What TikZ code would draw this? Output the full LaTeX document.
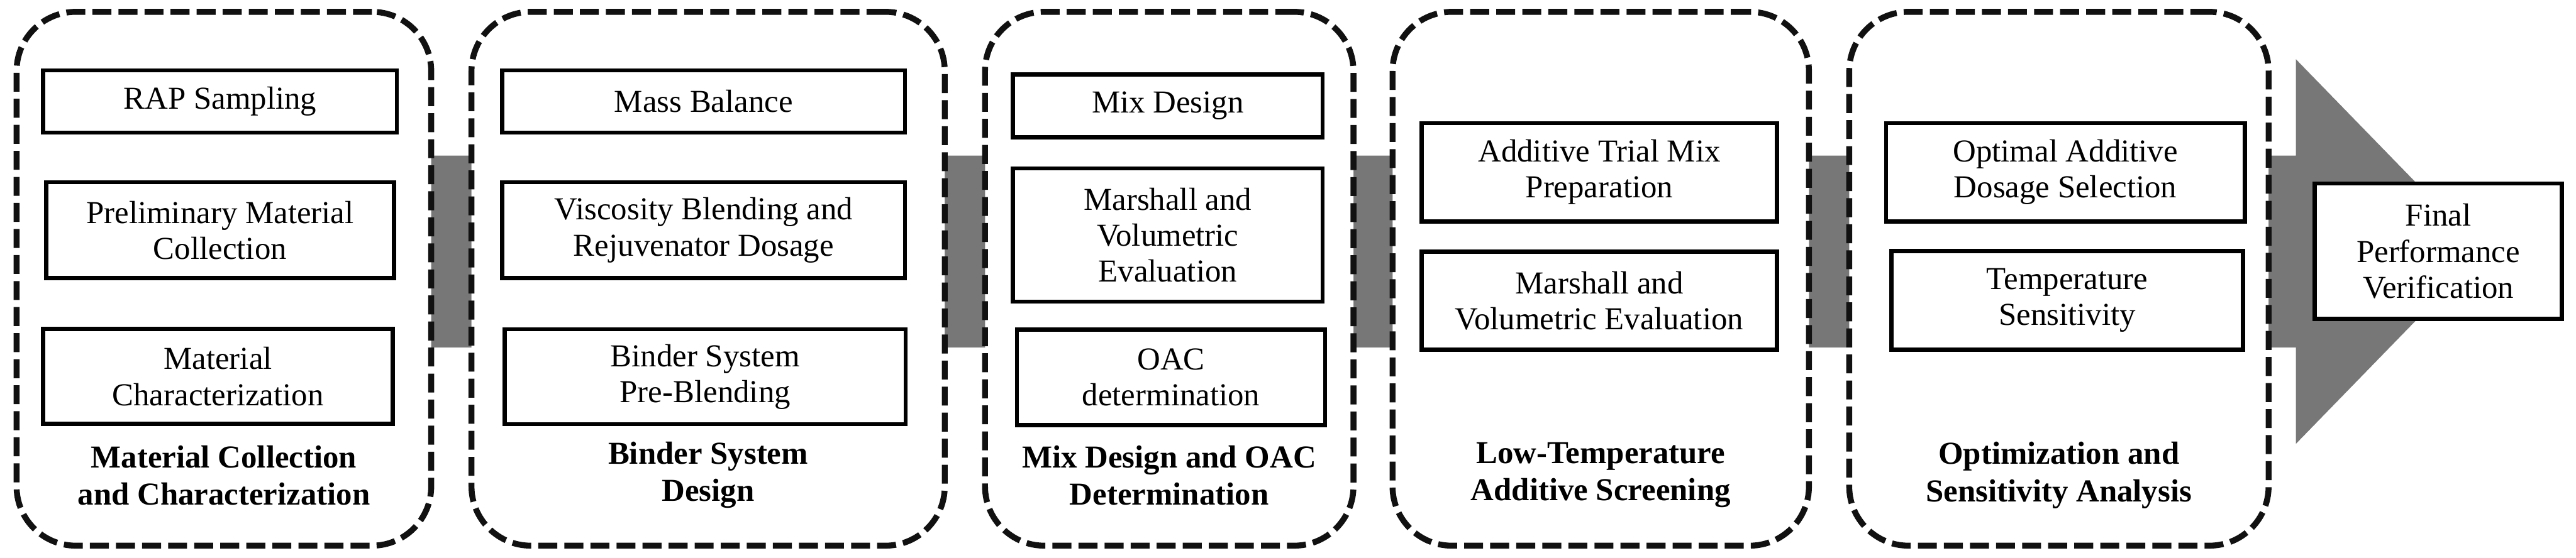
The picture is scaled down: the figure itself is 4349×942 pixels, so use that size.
\documentclass[tikz,border=0pt]{standalone}
\usepackage{fontspec}
\setmainfont{Liberation Serif}
\definecolor{arrowgray}{HTML}{777777}
\definecolor{dashblack}{HTML}{111111}
\begin{document}
\begin{tikzpicture}[x=0.25pt,y=-0.25pt,
  panel/.style={draw=dashblack, line width=2.5pt, dash pattern=on 8pt off 3pt,
    rounded corners=25pt, fill=white, inner sep=0pt, minimum height=225.5pt},
  proc/.style={draw=black, line width=1.75pt, fill=white, align=center,
    inner sep=0pt, font=\fontsize{13.5}{15.2}\selectfont},
  ttl/.style={align=center, inner sep=0pt, font=\fontsize{13.5}{15.7}\selectfont\bfseries},
  bigarrow/.style={fill=arrowgray}
]
\useasboundingbox (0,0) rectangle (4349,942);

% big grey process arrow (behind everything)
\coordinate (a1) at (378,263);
\coordinate (a2) at (3876,263);
\coordinate (a3) at (3876,100);
\coordinate (a4) at (4192,425);
\coordinate (a5) at (3876,750);
\coordinate (a6) at (3876,587);
\coordinate (a7) at (378,587);
\fill[bigarrow] (a1) -- (a2) -- (a3) -- (a4) -- (a5) -- (a6) -- (a7) -- cycle;

% dashed stage panels
\node[panel, minimum width=175pt]    (p1) at (378,471) {};
\node[panel, minimum width=199.75pt] (p2) at (1195.5,471) {};
\node[panel, minimum width=155.5pt]  (p3) at (1974,471) {};
\node[panel, minimum width=175.75pt] (p4) at (2702.5,471) {};
\node[panel, minimum width=177pt]    (p5) at (3476,471) {};

% stage 1
\node[proc, minimum width=149.25pt, minimum height=26.25pt] (rap) at (371.5,171.5) {RAP Sampling};
\node[proc, minimum width=146.75pt, minimum height=40.5pt] (pre) at (371.5,389) {Preliminary Material\\Collection};
\node[proc, minimum width=147.5pt, minimum height=40pt] (mch) at (368,636) {Material\\Characterization};
\node[ttl] (t1) at (378,803) {Material Collection\\and Characterization};

% stage 2
\node[proc, minimum width=170pt, minimum height=26.25pt] (mb) at (1188,171.5) {Mass Balance};
\node[proc, minimum width=170pt, minimum height=40.5pt] (vb) at (1188,389) {Viscosity Blending and\\Rejuvenator Dosage};
\node[proc, minimum width=169.25pt, minimum height=40pt] (bs) at (1190.5,636.5) {Binder System\\Pre-Blending};
\node[ttl] (t2) at (1195.5,803) {Binder System\\Design};

% stage 3
\node[proc, minimum width=130.75pt, minimum height=26.5pt] (md) at (1971.5,179) {Mix Design};
\node[proc, minimum width=130.75pt, minimum height=56.25pt] (mv) at (1971.5,397) {Marshall and\\Volumetric\\Evaluation};
\node[proc, minimum width=130pt, minimum height=40.25pt] (oac) at (1977,637.5) {OAC\\determination};
\node[ttl] (t3) at (1974,803) {Mix Design and OAC\\Determination};

% stage 4
\node[proc, minimum width=150pt, minimum height=41.5pt] (atm) at (2700,291) {Additive Trial Mix\\Preparation};
\node[proc, minimum width=150pt, minimum height=41.5pt] (mve) at (2700,508) {Marshall and\\Volumetric Evaluation};
\node[ttl] (t4) at (2702.5,803) {Low-Temperature\\Additive Screening};

% stage 5
\node[proc, minimum width=151.5pt, minimum height=41.5pt] (oad) at (3487,291) {Optimal Additive\\Dosage Selection};
\node[proc, minimum width=148.5pt, minimum height=41.75pt] (ts) at (3490,507.5) {Temperature\\Sensitivity};
\node[ttl] (t5) at (3476,803) {Optimization and\\Sensitivity Analysis};

% final
\node[proc, minimum width=104.25pt, minimum height=57.25pt] (fpv) at (4116.5,424.5) {Final\\Performance\\Verification};
\end{tikzpicture}
\end{document}
